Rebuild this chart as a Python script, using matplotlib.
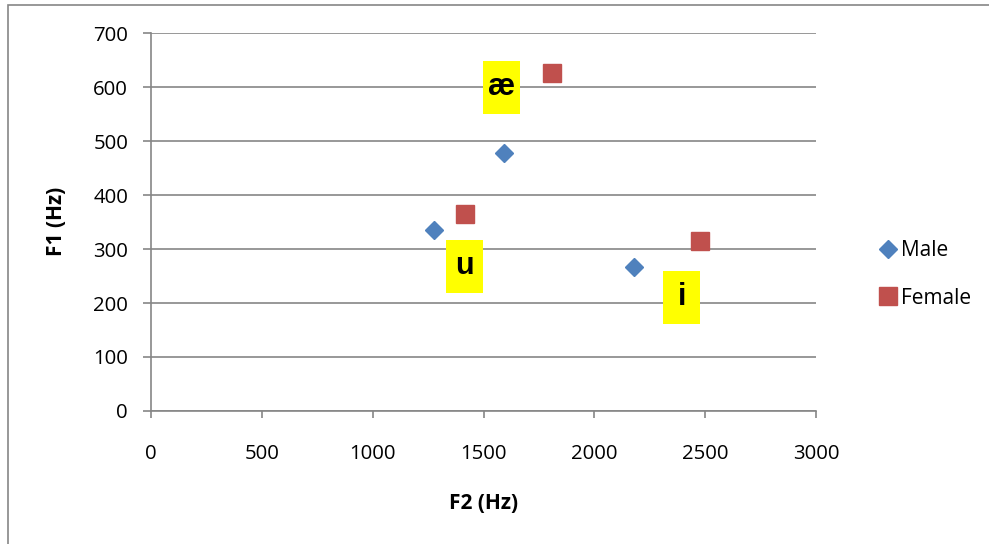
'''F1 / F2 vowel formant scatter, male vs female speakers'''
import matplotlib
matplotlib.use('Agg')
import matplotlib.pyplot as plt
from matplotlib.patches import Rectangle

# formant values (Hz)
male_f2 = [1277, 1592, 2179]
male_f1 = [335, 478, 267]
female_f2 = [1416, 1809, 2476]
female_f1 = [365, 626, 315]

# vowel labels and where they sit (F2, F1 of box centre)
vowels = ['æ', 'u', 'i']
vowel_f2 = [1583, 1412, 2395]
vowel_f1 = [600, 268, 211]

x_ticks = [0, 500, 1000, 1500, 2000, 2500, 3000]
y_ticks = [0, 100, 200, 300, 400, 500, 600, 700]

GREY = '#868686'
plt.rcParams['font.family'] = ['Open Sans', 'DejaVu Sans']

fig = plt.figure(figsize=(9.89, 5.44), dpi=100)
ax = fig.add_axes([0.1527, 0.2445, 0.8251 - 0.1527, 0.9393 - 0.2445])

# outer chart frame
fig.patches.append(Rectangle((8 / 989, -0.1), 1.2, 1 - 5 / 544 + 0.1,
                             transform=fig.transFigure, fill=False,
                             edgecolor=GREY, linewidth=1.2))

ax.set_xlim(0, 3000)
ax.set_ylim(0, 700)
ax.set_xticks(x_ticks)
ax.set_yticks(y_ticks)
ax.grid(axis='y', color=GREY, linewidth=1.2)
ax.set_axisbelow(True)
for side in ['top', 'right']:
    ax.spines[side].set_visible(False)
for side in ['left', 'bottom']:
    ax.spines[side].set_color(GREY)
    ax.spines[side].set_linewidth(1.2)
ax.tick_params(axis='y', length=6, width=1.2, color=GREY, pad=10.5,
               labelsize=14.7)
ax.tick_params(axis='x', length=5, width=1.2, color=GREY, pad=18.5,
               labelsize=14.7)

ax.plot(male_f2, male_f1, 'D', color='#4F81BD', markersize=9.5,
        label='Male', clip_on=False)
ax.plot(female_f2, female_f1, 's', color='#C0504D', markersize=13.5,
        label='Female', clip_on=False)

# yellow vowel boxes: 37 x 53 px
box_w = 37 / 665 * 3000
box_h = 53 / 378 * 700
for v, x, y in zip(vowels, vowel_f2, vowel_f1):
    ax.add_patch(Rectangle((x - box_w / 2, y - box_h / 2), box_w, box_h,
                           facecolor='#FFFF00', edgecolor='none', zorder=4))
    ax.text(x, y, v, ha='center', va='center', fontsize=22,
            fontweight='bold', family=['Liberation Sans', 'DejaVu Sans'],
            zorder=5)

ax.set_xlabel('F2 (Hz)', fontsize=15, fontweight='bold')
ax.xaxis.label.set_va('center')
ax.xaxis.set_label_coords(0.5, -0.246)
ax.set_ylabel('F1 (Hz)', fontsize=15, fontweight='bold')
ax.yaxis.label.set_va('center')
ax.yaxis.set_label_coords(-0.1414, 0.501)

ax.legend(loc='center left', bbox_to_anchor=(878 / 989, 1 - 274.5 / 544),
          bbox_transform=fig.transFigure, frameon=False, fontsize=15,
          handletextpad=0.15, labelspacing=1.25, handlelength=0.95,
          borderaxespad=0, borderpad=0)

fig.savefig('out.png', dpi=100)
